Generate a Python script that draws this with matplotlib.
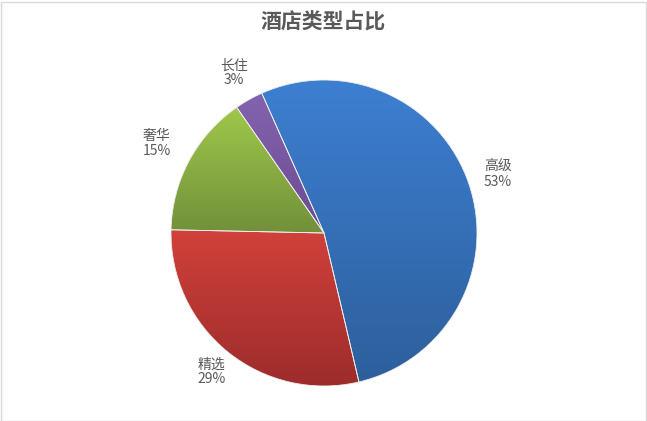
import numpy as np
import matplotlib
matplotlib.use("Agg")
import matplotlib.pyplot as plt
from matplotlib.colors import LinearSegmentedColormap
from matplotlib.patches import Rectangle

plt.rcParams['font.family'] = ['Noto Sans CJK SC', 'DejaVu Sans']

categories = ["高级", "精选", "奢华", "长住"]
values = [53, 29, 15, 3]
top_colors = ["#3D7FD1", "#D1413B", "#9FC84B", "#8463AE"]
bottom_colors = ["#2D5F9C", "#9C2C2B", "#71903A", "#6A4C92"]

W, H = 647, 421
fig = plt.figure(figsize=(W / 100, H / 100), dpi=100)
fig.patches.append(Rectangle((0.5 / W, 0.5 / H), 1 - 1.5 / W, 1 - 2 / H,
                             transform=fig.transFigure, fill=False,
                             edgecolor="#D9D9D9", linewidth=1))

cx, cy, r = 324, 233, 153
ax = fig.add_axes([(cx - r) / W, (H - cy - r) / H, 2 * r / W, 2 * r / H])
ax.axis("off")

wedges, _ = ax.pie(values, startangle=114, counterclock=False, radius=1,
                   colors=top_colors,
                   wedgeprops=dict(linewidth=0.6, edgecolor="#EEEEEE"))

for w, ct, cb in zip(wedges, top_colors, bottom_colors):
    verts = w.get_patch_transform().transform(w.get_path().vertices)
    ymin, ymax = verts[:, 1].min(), verts[:, 1].max()
    xmin, xmax = verts[:, 0].min(), verts[:, 0].max()
    cmap = LinearSegmentedColormap.from_list("g", [cb, ct])
    grad = np.linspace(0, 1, 256).reshape(-1, 1)
    im = ax.imshow(grad, cmap=cmap, origin="lower", aspect="auto",
                   extent=(xmin, xmax, ymin, ymax), zorder=w.get_zorder())
    im.set_clip_path(w)
    w.set_facecolor("none")
    w.set_zorder(w.get_zorder() + 0.1)
ax.set_xlim(-1, 1)
ax.set_ylim(-1, 1)

# labels
total = sum(values)
start = 114.0
label_dist = [1.2, 1.17, 1.24, 1.2]
for cat, v, d in zip(categories, values, label_dist):
    mid = start - v / total * 360 / 2
    start -= v / total * 360
    a = np.deg2rad(mid)
    ax.text(d * np.cos(a), d * np.sin(a), f"{cat}\n{v}%", ha="center",
            va="center", fontsize=10, color="#595959", linespacing=1.05)

fig.text(0.5, 1 - 22 / H, "酒店类型占比", ha="center", va="center",
         fontsize=15, fontweight="bold", color="#595959")

fig.savefig("out.png", dpi=100)
